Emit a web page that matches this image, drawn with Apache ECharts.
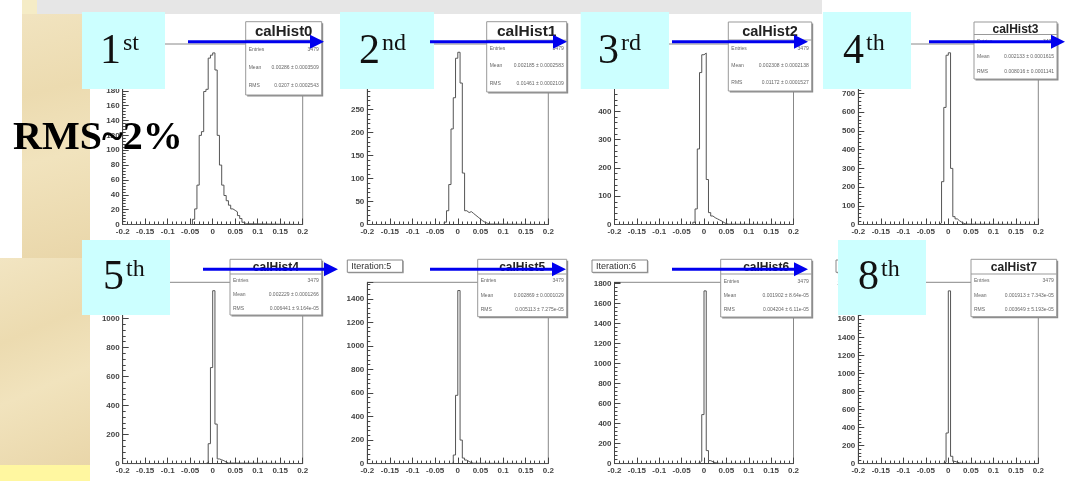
<!DOCTYPE html>
<html>
<head>
<meta charset="utf-8">
<script src="https://cdn.jsdelivr.net/npm/echarts/dist/echarts.min.js"></script>
<style>
  html, body { margin: 0; padding: 0; background: #fff; }
  #chart { width: 1065px; height: 481px; }
</style>
</head>
<body>
<div id="chart"></div>
<script>
// histogram data: bin width 0.005, each list starts at its own left edge
const binWidth = 0.005;
const histNames = ['calHist0', 'calHist1', 'calHist2', 'calHist3', 'calHist4', 'calHist5', 'calHist6', 'calHist7'];
const histStarts = [-0.045, -0.03, -0.025, -0.02, -0.015, -0.015, -0.015, -0.015];
const hist0 = [7, 21, 53, 120, 125, 179, 182, 224, 228, 231, 208, 120, 80, 53, 39, 32, 26, 21, 19, 17, 12, 8, 3, 1];
const hist1 = [5, 30, 87, 208, 276, 362, 375, 308, 112, 30, 26, 28, 24, 20, 16, 12, 8, 5, 3, 1];
const hist2 = [8, 55, 267, 537, 600, 606, 159, 42, 30, 24, 20, 16, 12, 7, 3, 1];
const hist3 = [8, 229, 626, 905, 918, 300, 42, 30, 20, 12, 6, 2];
const hist4 = [8, 137, 661, 1190, 272, 32, 26, 20, 10, 4];
const hist5 = [5, 73, 580, 1470, 200, 47, 30, 18, 8, 3];
const hist6 = [6, 25, 490, 1727, 130, 30, 18, 10, 5, 2];
const hist7 = [4, 15, 339, 1915, 81, 25, 15, 8, 3];
const hists = [hist0, hist1, hist2, hist3, hist4, hist5, hist6, hist7];

// axis ranges
const xMin = -0.2, xMax = 0.2, xStep = 0.05;
const yMaxes = [243, 393, 638, 965, 1248, 1540, 1813, 2010];
const ySteps = [20, 50, 100, 100, 200, 200, 200, 200];

// stats box texts
const statEntries = ['3479', '3479', '3479', '3479', '3479', '3479', '3479', '3479'];
const statMeans = ['0.00286 ± 0.0003509', '0.002185 ± 0.0002583', '0.002308 ± 0.0002138', '0.002133 ± 0.0001615',
  '0.002229 ± 0.0001266', '0.002869 ± 0.0001029', '0.001902 ± 8.64e-05', '0.001913 ± 7.343e-05'];
const statRms = ['0.0207 ± 0.0002543', '0.01461 ± 0.0002109', '0.01172 ± 0.0001527', '0.008016 ± 0.0001141',
  '0.006441 ± 9.164e-05', '0.005113 ± 7.275e-05', '0.004204 ± 6.11e-05', '0.003649 ± 5.193e-05'];

// slide annotations
const ordinalNums = ['1', '2', '3', '4', '5', '8'];
const ordinalSups = ['st', 'nd', 'rd', 'th', 'th', 'th'];
const iterLabels = ['Iteration:5', 'Iteration:6', 'Iteration:7'];
const noteText = 'RMS~2%';

// ---- layout ----
const colLeft = [122.7, 367.3, 614.5, 858.3];
const colWidth = [180, 181, 179, 180];
const rowTop = [44, 282.3];
const rowHeight = [180.5, 181.3];

const statBoxes = [
  { x: 245.7, y: 21.7, w: 76, h: 73.3, t: 18.5, fs: 15 },
  { x: 486.7, y: 21.7, w: 80, h: 70.3, t: 18.5, fs: 15.5 },
  { x: 728.3, y: 22, w: 83.4, h: 69, t: 18, fs: 14.5 },
  { x: 974, y: 22, w: 83, h: 57, t: 12.5, fs: 12 },
  { x: 230, y: 259.3, w: 91.7, h: 55.7, t: 14.7, fs: 12 },
  { x: 477.7, y: 259.3, w: 89, h: 57.4, t: 14.7, fs: 12 },
  { x: 720.7, y: 259.3, w: 91, h: 57.7, t: 14.7, fs: 12 },
  { x: 971, y: 259.3, w: 85.7, h: 57.4, t: 14.7, fs: 12 }
];
const cyanBoxes = [
  { x: 82, y: 12, w: 83, h: 77, split: 121, dy: 52, sy: 44 },
  { x: 340, y: 12, w: 94, h: 77, split: 380, dy: 52, sy: 44 },
  { x: 580.7, y: 12, w: 88.3, h: 77, split: 619, dy: 52, sy: 44 },
  { x: 823, y: 12, w: 88, h: 77, split: 864, dy: 52, sy: 44 },
  { x: 82, y: 240, w: 88, h: 75, split: 124, dy: 278, sy: 270 },
  { x: 838, y: 240, w: 88, h: 75, split: 879, dy: 278, sy: 270 }
];
const iterBoxes = [
  { x: 347.3, y: 260, w: 55.4, h: 12.3 },
  { x: 592, y: 260, w: 55.4, h: 12.3 },
  { x: 836, y: 260, w: 55.4, h: 12.3 }
];
const arrows = [
  [188, 324, 41.7], [430, 567, 41.7], [672, 808, 41.7], [929, 1065, 41.7],
  [203, 338, 269.3], [430, 566, 269.3], [672, 808, 269.3]
];

function histPoints(start, counts) {
  const pts = [[xMin, 0], [start, 0]];
  counts.forEach(function (c, i) {
    pts.push([+(start + i * binWidth).toFixed(4), c]);
  });
  pts.push([+(start + counts.length * binWidth).toFixed(4), 0]);
  pts.push([xMax, 0]);
  return pts;
}

const axisColor = '#444';
const labelStyle = { fontSize: 8, fontWeight: 'bold', color: '#444', fontFamily: 'Liberation Sans',
  formatter: function (v) { return String(+v.toFixed(4)); } };

const grids = [], xAxes = [], yAxes = [], series = [];
for (let i = 0; i < 8; i++) {
  const c = i % 4, r = Math.floor(i / 4);
  grids.push({
    left: colLeft[c], top: rowTop[r], width: colWidth[c], height: rowHeight[r],
    show: true, borderColor: '#888', borderWidth: 1, backgroundColor: 'transparent'
  });
  xAxes.push({
    type: 'value', gridIndex: i, min: xMin, max: xMax, interval: xStep,
    axisLine: { onZero: false, lineStyle: { color: axisColor } },
    axisTick: { inside: true, length: 6, lineStyle: { color: axisColor } },
    minorTick: { show: true, splitNumber: 5, length: 3, lineStyle: { color: axisColor } },
    splitLine: { show: false },
    axisLabel: Object.assign({ margin: 3 }, labelStyle)
  });
  yAxes.push({
    type: 'value', gridIndex: i, min: 0, max: yMaxes[i], interval: ySteps[i],
    axisLine: { show: true, onZero: false, lineStyle: { color: axisColor } },
    axisTick: { show: true, inside: true, length: 6, lineStyle: { color: axisColor } },
    minorTick: { show: true, splitNumber: 5, length: 3, lineStyle: { color: axisColor } },
    splitLine: { show: false },
    axisLabel: Object.assign({ margin: 3, showMaxLabel: false }, labelStyle)
  });
  series.push({
    name: histNames[i], type: 'line', step: 'end', xAxisIndex: i, yAxisIndex: i,
    data: histPoints(histStarts[i], hists[i]),
    showSymbol: false, silent: true,
    lineStyle: { color: '#555', width: 1 }
  });
}

const parchment = new echarts.graphic.LinearGradient(0, 0, 1, 1, [
  { offset: 0, color: '#f2e5c2' }, { offset: 0.35, color: '#ecdbb0' },
  { offset: 0.6, color: '#f1e3bd' }, { offset: 1, color: '#e9d6a9' }
]);

const g = [];
// slide background pieces
g.push({ type: 'rect', z: -10, shape: { x: 22, y: 0, width: 68, height: 258 }, style: { fill: parchment } });
g.push({ type: 'rect', z: -10, shape: { x: 0, y: 258, width: 90, height: 207 }, style: { fill: parchment } });
g.push({ type: 'rect', z: -9, shape: { x: 22, y: 0, width: 15, height: 14 }, style: { fill: '#f5ecc6' } });
g.push({ type: 'rect', z: -10, shape: { x: 0, y: 465, width: 90, height: 16 }, style: { fill: '#fff7a0' } });
g.push({ type: 'rect', z: -10, shape: { x: 37, y: 0, width: 785, height: 14 }, style: { fill: '#e6e6e6' } });

// stats boxes
statBoxes.forEach(function (b, i) {
  g.push({ type: 'rect', z: 10, shape: { x: b.x + 1.5, y: b.y + 1.5, width: b.w, height: b.h }, style: { fill: '#8a8a8a' } });
  g.push({ type: 'rect', z: 11, shape: { x: b.x, y: b.y, width: b.w, height: b.h }, style: { fill: '#fff', stroke: '#999', lineWidth: 1 } });
  g.push({ type: 'line', z: 12, shape: { x1: b.x, y1: b.y + b.t, x2: b.x + b.w, y2: b.y + b.t }, style: { stroke: '#999', lineWidth: 1 } });
  g.push({ type: 'text', z: 12, x: b.x + b.w / 2, y: b.y + b.t / 2 + 1, style: {
    text: histNames[i], fontSize: b.fs, fontWeight: 'bold', fontFamily: 'Liberation Sans', fill: '#222',
    align: 'center', textAlign: 'center', verticalAlign: 'middle', textVerticalAlign: 'middle' } });
  const rows = [['Entries', statEntries[i]], ['Mean', statMeans[i]], ['RMS', statRms[i]]];
  const rest = b.h - b.t;
  rows.forEach(function (row, k) {
    const ry = b.y + b.t + rest * (k + 0.5) / 3;
    g.push({ type: 'text', z: 12, x: b.x + 3, y: ry, style: {
      text: row[0], fontSize: 5, fontFamily: 'Liberation Sans', fill: '#666',
      align: 'left', textAlign: 'left', verticalAlign: 'middle', textVerticalAlign: 'middle' } });
    g.push({ type: 'text', z: 12, x: b.x + b.w - 3, y: ry, style: {
      text: row[1], fontSize: 5, fontFamily: 'Liberation Sans', fill: '#666',
      align: 'right', textAlign: 'right', verticalAlign: 'middle', textVerticalAlign: 'middle' } });
  });
});

// iteration labels
iterBoxes.forEach(function (b, i) {
  g.push({ type: 'rect', z: 10, shape: { x: b.x + 1, y: b.y + 1, width: b.w, height: b.h }, style: { fill: '#999' } });
  g.push({ type: 'rect', z: 11, shape: { x: b.x, y: b.y, width: b.w, height: b.h }, style: { fill: '#fff', stroke: '#888', lineWidth: 1 } });
  g.push({ type: 'text', z: 12, x: b.x + 4, y: b.y + b.h / 2 + 0.5, style: {
    text: iterLabels[i], fontSize: 9, fontFamily: 'Liberation Sans', fill: '#333',
    align: 'left', textAlign: 'left', verticalAlign: 'middle', textVerticalAlign: 'middle' } });
});

// ordinal boxes
cyanBoxes.forEach(function (b, i) {
  g.push({ type: 'rect', z: 15, shape: { x: b.x, y: b.y, width: b.w, height: b.h }, style: { fill: '#ccffff' } });
  g.push({ type: 'text', z: 16, x: b.split, y: b.dy, style: {
    text: ordinalNums[i], fontSize: 42, fontFamily: 'Liberation Serif', fill: '#111',
    align: 'right', textAlign: 'right', verticalAlign: 'middle', textVerticalAlign: 'middle' } });
  g.push({ type: 'text', z: 16, x: b.split + 2, y: b.sy, style: {
    text: ordinalSups[i], fontSize: 24, fontFamily: 'Liberation Serif', fill: '#111',
    align: 'left', textAlign: 'left', verticalAlign: 'middle', textVerticalAlign: 'middle' } });
});

// arrows
arrows.forEach(function (a) {
  const x1 = a[0], x2 = a[1], y = a[2];
  g.push({ type: 'rect', z: 20, shape: { x: x1, y: y - 1.5, width: x2 - x1 - 13, height: 3 }, style: { fill: '#0000ee' } });
  g.push({ type: 'polygon', z: 20, shape: { points: [[x2 - 14, y - 7], [x2, y], [x2 - 14, y + 7]] }, style: { fill: '#0000ee' } });
});

// note
g.push({ type: 'text', z: 30, x: 13, y: 139, style: {
  text: noteText, fontSize: 40, fontWeight: 'bold', fontFamily: 'Liberation Serif', fill: '#000',
  align: 'left', textAlign: 'left', verticalAlign: 'middle', textVerticalAlign: 'middle' } });

const chart = echarts.init(document.getElementById('chart'), null, { renderer: 'canvas' });
chart.setOption({
  animation: false,
  backgroundColor: '#fff',
  grid: grids,
  xAxis: xAxes,
  yAxis: yAxes,
  series: series,
  graphic: { elements: g }
});
</script>
</body>
</html>
